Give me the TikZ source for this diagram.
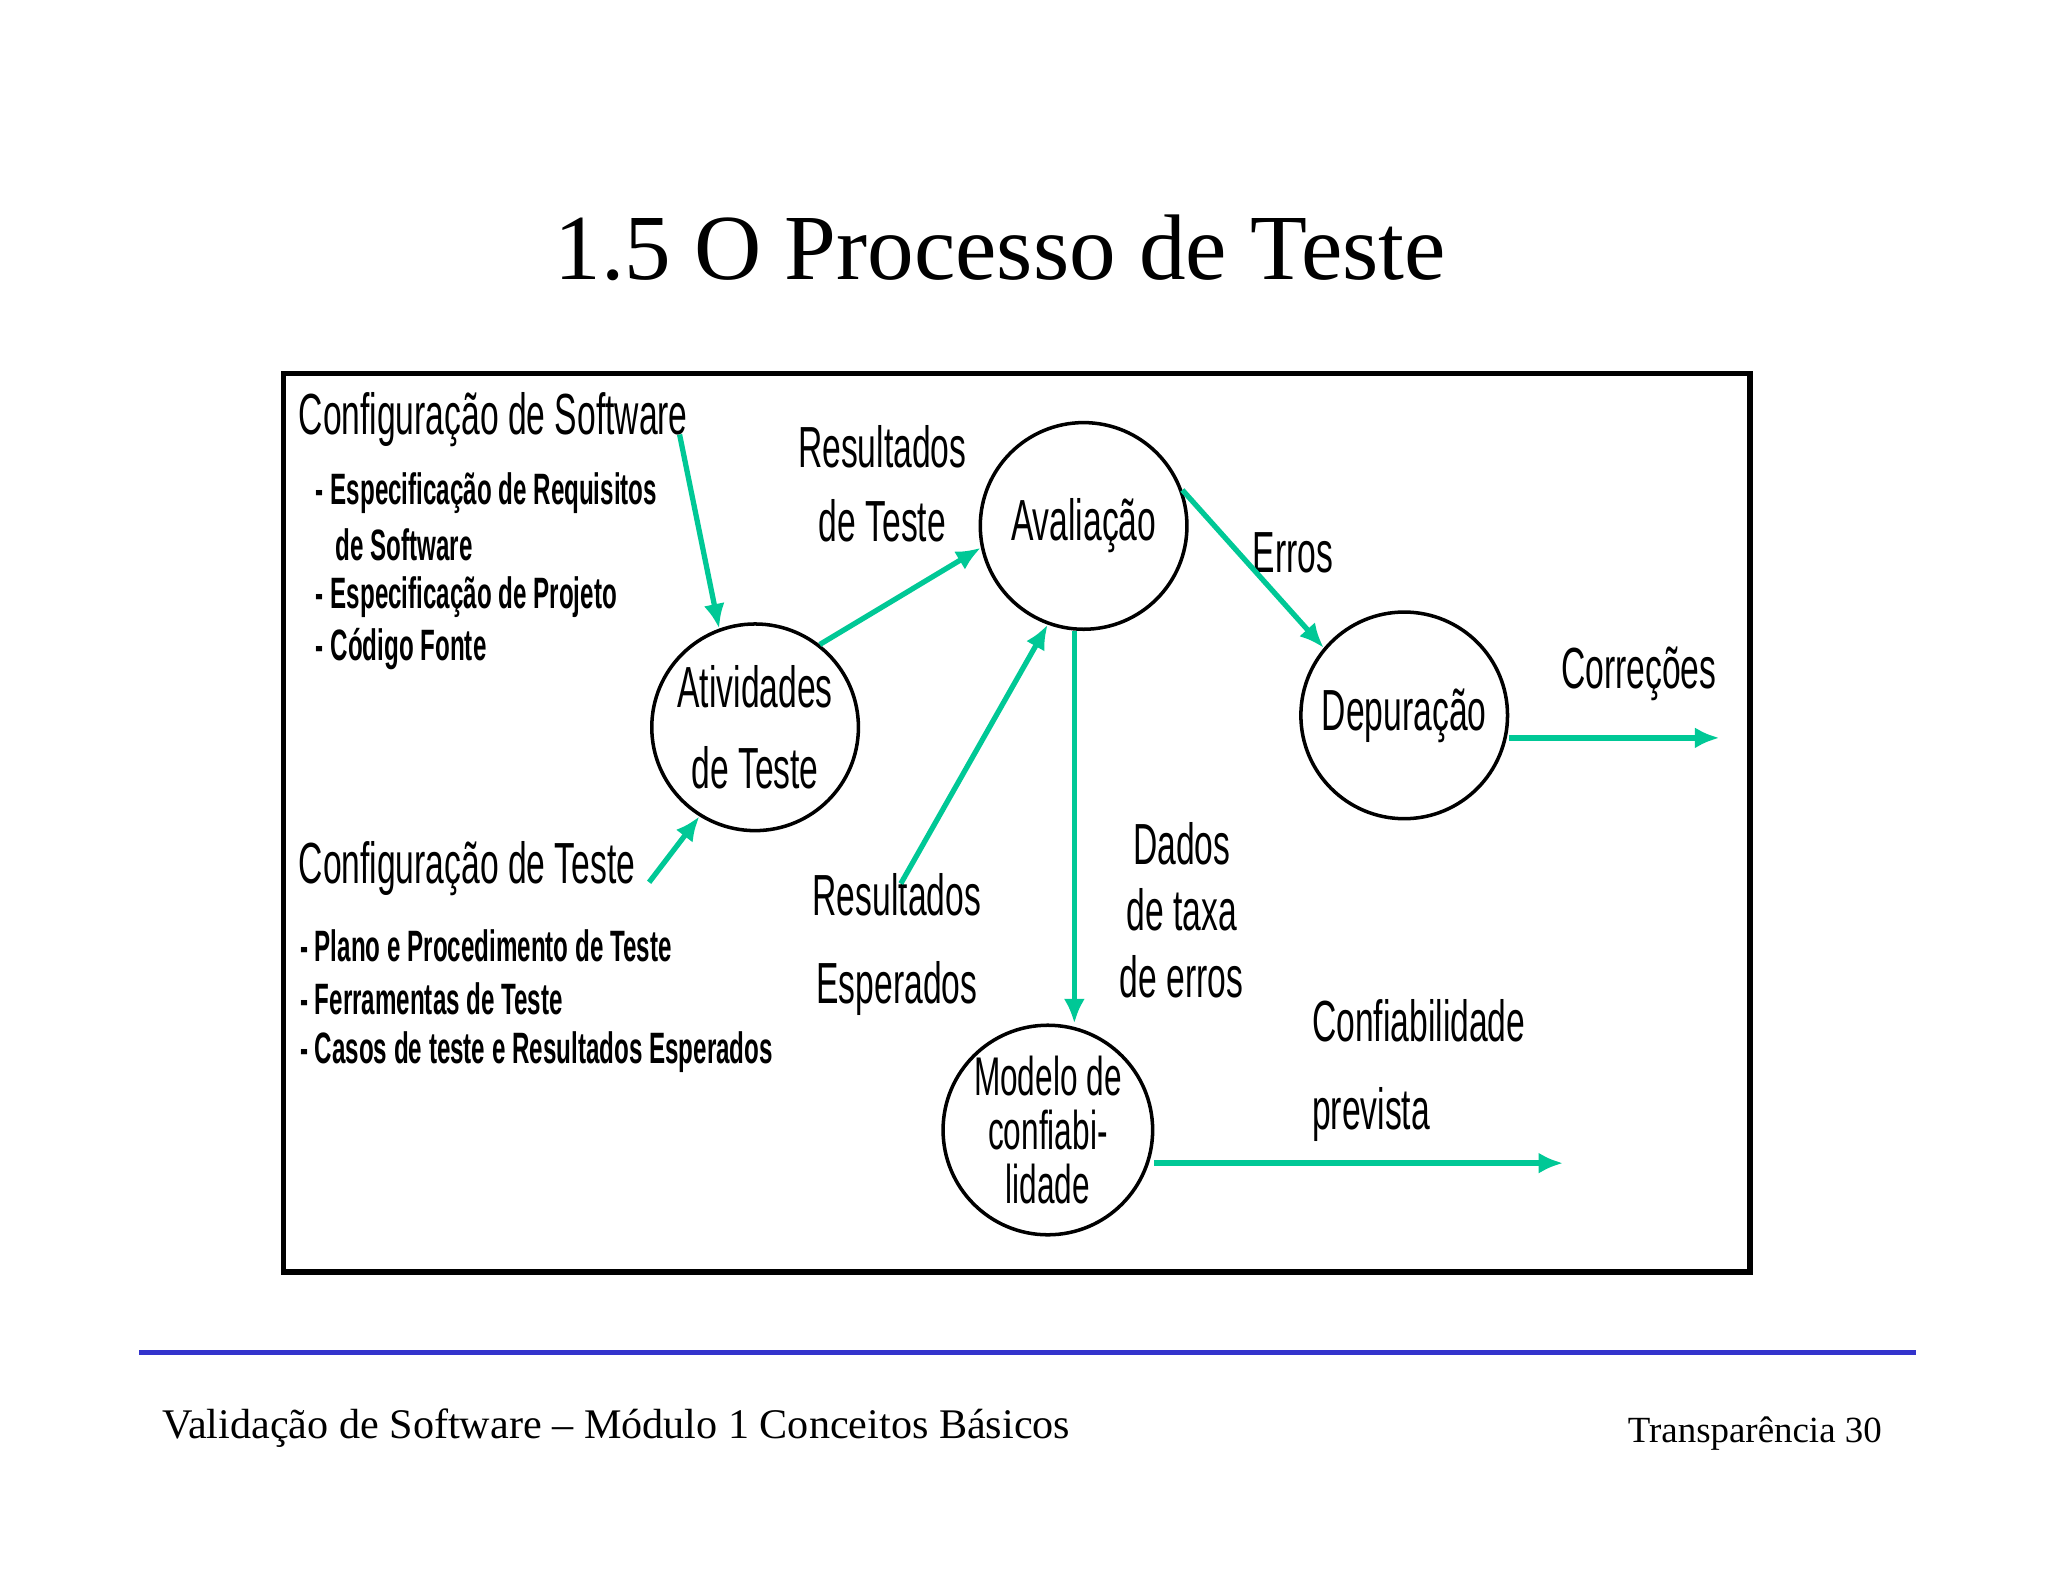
\documentclass[tikz,border=0pt]{standalone}
\usepackage{fontspec}
\setmainfont{Liberation Serif}
\newfontfamily\narrow[FakeStretch=0.58]{Liberation Sans}
\newfontfamily\narrowb[FakeStretch=0.55]{Liberation Sans Bold}
\usetikzlibrary{positioning}
\definecolor{seta}{RGB}{0,200,150}
\definecolor{azul}{RGB}{51,51,204}
\tikzset{
  proc/.style={draw, circle, minimum size=156\un, line width=1pt, inner sep=0pt, font=\narrow\fontsize{16.5}{19}\selectfont, align=center},
  rot/.style={font=\narrow\fontsize{16.5}{19}\selectfont, inner sep=0pt, align=center},
  item/.style={font=\narrowb\fontsize{12.5}{14}\selectfont, inner sep=0pt, anchor=west},
  flu/.style={seta, line width=1.5pt, -{Latex[length=7pt,width=6pt]}}
}
\usetikzlibrary{arrows.meta}
\newlength\un
\setlength\un{0.013247cm}
\begin{document}
\begin{tikzpicture}[x=0.013247cm, y=-0.013247cm]
\useasboundingbox (0,0) rectangle (1546,1194);

%% titulo
\node[font=\fontsize{26.5}{30}\selectfont] (titulo) at (755,187) {1.5 O Processo de Teste};

%% moldura
\draw[line width=1.6pt] (214,282) rectangle (1321,960);

%% processos
\node[proc] (ativ) at (570,549) {Atividades\\[4pt]de Teste};
\node[proc] (aval) at (818,397) {Avalia\c{c}\~ao};
\node[proc] (depu) at (1060,540) {Depura\c{c}\~ao};
\node[proc, font=\narrow\fontsize{15.5}{15.5}\selectfont] (mode) at (791,853) {Modelo de\\confiabi-\\lidade};

%% textos
\node[rot, anchor=west] (confsw) at (225,317) {Configura\c{c}\~ao de Software};
\node[item] (i1) at (238,372) {- Especifica\c{c}\~ao de Requisitos};
\node[item] (i2) at (253,411) {de Software};
\node[item] (i3) at (238,451) {- Especifica\c{c}\~ao de Projeto};
\node[item] (i4) at (238,490) {- C\'odigo Fonte};
\node[rot, anchor=west] (conft) at (225,656) {Configura\c{c}\~ao de Teste};
\node[item] (j1) at (226,714) {- Plano e Procedimento de Teste};
\node[item] (j2) at (226,754) {- Ferramentas de Teste};
\node[item] (j3) at (226,794) {- Casos de teste e Resultados Esperados};
\node[rot] (resteste) at (666,365) {Resultados\\[2pt]de Teste};
\node[rot] (resesp) at (677,713) {Resultados\\[6pt]Esperados};
\node[rot] (erros) at (976,417) {Erros};
\node[rot] (corr) at (1237,509) {Corre\c{c}\~oes};
\node[rot] (dados) at (892,687) {Dados\\de taxa\\de erros};
\node[rot, align=left, anchor=west] (conf) at (990,808) {Confiabilidade\\[6pt]prevista};

%% pontas livres
\coordinate (sw) at (513,328);
\coordinate (te) at (490,666);
\coordinate (re) at (680,667);
\coordinate (fimc) at (1298,557);
\coordinate (fimm) at (1180,878);

%% fluxos
\draw[flu] (sw) -- (ativ.110);
\draw[flu] (te) -- (ativ.238);
\draw[flu] (ativ.52) -- (aval.192);
\draw[flu] (re) -- (aval.250);
\draw[flu] (aval.south -| 811,0) -- (mode.north -| 811,0);
\draw[flu] (aval.20) -- (depu.140);
\draw[flu] (depu.east |- fimc) -- (fimc);
\draw[flu] (mode.east |- fimm) -- (fimm);

%% rodape
\draw[azul, line width=1.5pt] (105,1021) -- (1446,1021);
\node[anchor=west, font=\fontsize{12}{14}\selectfont, inner sep=0pt] (rod) at (122,1078) {Valida\c{c}\~ao de Software -- M\'odulo 1 Conceitos B\'asicos};
\node[anchor=east, font=\fontsize{10.5}{12}\selectfont, inner sep=0pt] (pag) at (1421,1082) {Transpar\^encia 30};
\end{tikzpicture}
\end{document}
